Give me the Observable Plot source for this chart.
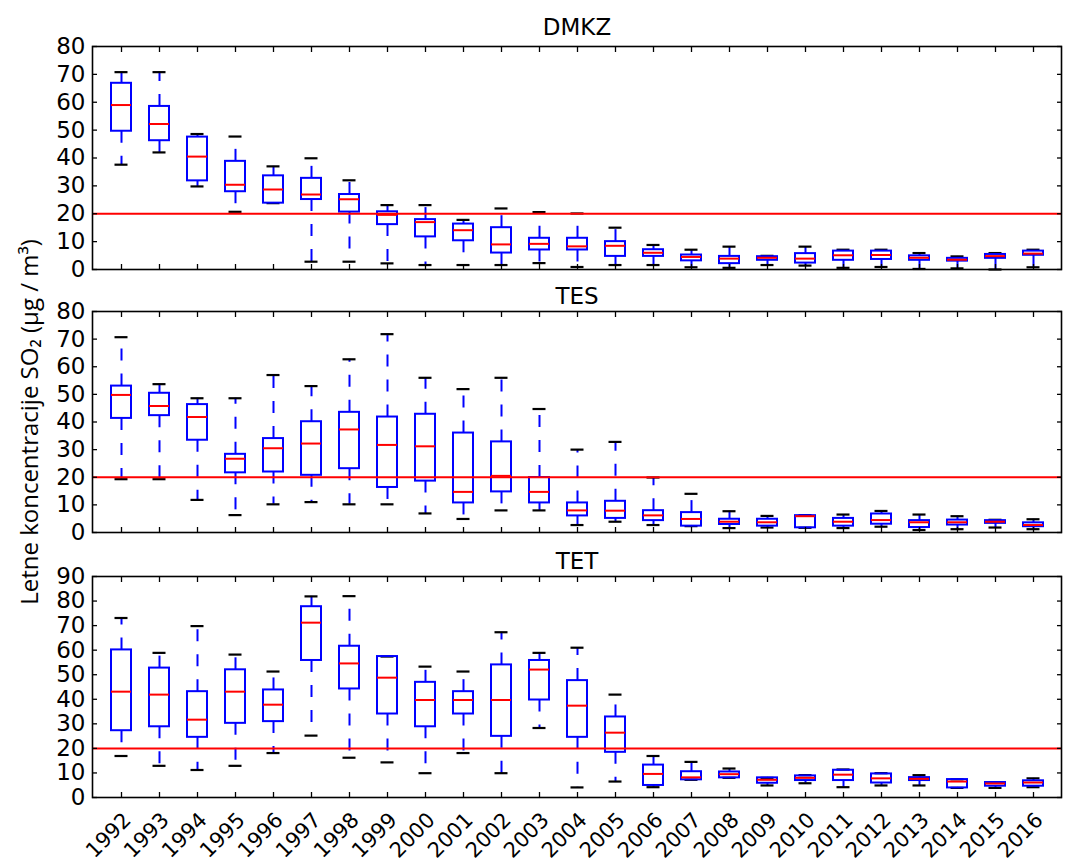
<!DOCTYPE html>
<html><head><meta charset="utf-8">
<script src="https://cdn.jsdelivr.net/npm/d3@7"></script>
<script src="https://cdn.jsdelivr.net/npm/@observablehq/plot@0.6"></script>
<style>
body{margin:0;background:#fff;}
#wrap{position:relative;width:1070px;height:865px;overflow:hidden;background:#fff;}
.panel{position:absolute;left:0;}
.panel svg{overflow:visible;}
</style></head><body><div id="wrap"></div>
<script>
const years = [1992,1993,1994,1995,1996,1997,1998,1999,2000,2001,2002,2003,2004,2005,2006,2007,2008,2009,2010,2011,2012,2013,2014,2015,2016];
const limitValue = 20;
const yLabelText = "Letne koncentracije SO\u2082 (\u03BCg / m\u00B3)";

// DMKZ
const dmkzHigh = [70.8,70.8,48.6,47.7,37,39.9,32,23.1,23.1,17.8,21.9,20.6,20.1,15,8.8,7.1,8.2,4.9,8.2,7.1,7.1,5.9,4.7,5.9,7.1];
const dmkzQ3   = [66.8,58.5,47.5,38.8,33.6,32.7,26.9,20.7,17.9,16.3,15,11.2,11.2,10,7.1,5.2,4.7,4.6,5.7,6.6,6.6,4.9,4.0,5.4,6.6];
const dmkzMed  = [59,52.2,40.5,30.4,28.7,26.9,25.2,19.6,17,14.1,9,9.2,8.3,8.5,6,4.5,3.9,4.2,3.9,5.1,5.2,4.2,3.5,4.8,5.7];
const dmkzQ1   = [49.6,46.2,31.8,27.9,23.8,25.1,20.6,16.1,11.7,10.3,5.9,7,7,4.7,4.7,3.1,2.1,3.3,2.3,3.3,3.6,3.3,3.0,4.0,5.1];
const dmkzLow  = [37.6,42,29.8,20.7,23.8,2.8,2.8,2.2,1.6,1.6,1.6,2.3,0.9,1.6,1.6,0.8,0.6,1.6,1.4,0.6,0.9,0.2,0.4,0,0.8];

// TES
const tesHigh = [70.7,53.7,48.6,48.6,57,53,62.7,71.8,56,51.9,56,44.7,30,32.8,19.9,14,7.7,6,6.3,6.5,7.8,6.5,5.9,4.6,4.8];
const tesQ3   = [53,50.4,46.3,28.3,34,40.1,43.5,41.8,42.8,36,32.8,19.9,10.7,11.3,7.9,7.2,4.8,4.8,6.1,5.1,6.7,4.3,4.5,4.3,3.5];
const tesMed  = [49.8,45.8,41.8,26.7,30.5,32.2,37.3,31.7,31.2,14.7,20.5,14.7,8,7.9,6.2,4.9,3.9,3.7,5.9,3.9,4.5,3.7,3.7,3.9,2.7];
const tesQ1   = [41.3,42.3,33.4,21.6,21.9,20.7,23.1,16.3,18.6,10.7,14.7,10.7,6,5.1,4.3,2.3,2.9,2.3,1.7,2.3,3,1.8,2.7,3.3,2.1];
const tesLow  = [19.3,19.3,11.8,6.3,10.2,11,10.2,10.2,6.9,4.9,8,8,2.7,3.9,2.7,2.3,1.6,1.8,1.7,1.6,2.1,0.9,1.2,1.8,1.2];

// TET
const tetHigh = [73.1,58.9,69.8,58.2,51.3,81.9,82,57.4,53.3,51.3,67.3,58.9,61,41.9,16.9,14.5,11.8,8,9.1,11.4,9.9,9.1,7.4,6.2,7.8];
const tetQ3   = [60.1,52.7,43.1,52,43.8,77.7,61.6,57.4,46.9,43.1,54,55.8,47.6,32.8,13.2,10.5,10.4,8,8.8,11.1,9.6,8.1,7.3,6.1,6.8];
const tetMed  = [43.1,41.9,31.7,43.1,37.8,71.2,54.6,48.8,39.7,39.7,39.7,52.1,37.4,26.4,9.6,8.2,9.5,7.2,8,9.3,7.8,7.6,6.5,5.7,6.1];
const tetQ1   = [27.2,28.8,24.5,30.2,30.9,55.8,44.2,34,28.8,34,24.9,39.7,24.5,18.4,4.9,7.2,8,5.8,6.9,6.9,5.9,6.9,3.9,4.6,4.6];
const tetLow  = [16.9,12.9,11.2,12.9,18.1,25.2,16.2,14.3,9.9,18.1,9.9,28.3,4.1,6.5,4.2,7.2,8,4.9,5.8,4.2,4.9,4.9,3.9,3.9,4.2];

const BLUE = "#0000ff", RED = "#ff0000";
const FONT = "DejaVu Sans";

function makePanel(cfg) {
  const rows = years.map((yr, i) => ({
    year: String(yr), low: cfg.low[i], q1: cfg.q1[i], med: cfg.med[i], q3: cfg.q3[i], high: cfg.high[i]
  }));
  const yTicks = d3.range(0, cfg.yMax + 1, 10);
  const blank = () => "";
  const marks = [
    Plot.ruleX(rows, {x: "year", y1: "q3", y2: "high", stroke: BLUE, strokeWidth: 2, strokeDasharray: "12,13"}),
    Plot.ruleX(rows, {x: "year", y1: "q1", y2: "low", stroke: BLUE, strokeWidth: 2, strokeDasharray: "12,13"}),
    Plot.tickY(rows, {x: "year", y: "high", stroke: "black", strokeWidth: 2.2, inset: 3.5}),
    Plot.tickY(rows, {x: "year", y: "low", stroke: "black", strokeWidth: 2.2, inset: 3.5}),
    Plot.barY(rows, {x: "year", y1: "q1", y2: "q3", fill: "none", stroke: BLUE, strokeWidth: 2}),
    Plot.tickY(rows, {x: "year", y: "med", stroke: RED, strokeWidth: 2}),
    Plot.ruleY([limitValue], {stroke: RED, strokeWidth: 2}),
    Plot.axisY({anchor: "left", ticks: yTicks, tickSize: 0, tickPadding: 7, fontSize: 23, label: null}),
    Plot.axisY({anchor: "left", ticks: yTicks, tickSize: -5, tickFormat: blank, label: null, strokeWidth: 1.3}),
    Plot.axisY({anchor: "right", ticks: yTicks, tickSize: -5, tickFormat: blank, label: null, strokeWidth: 1.3}),
    Plot.axisX({anchor: "top", tickSize: -5, tickFormat: blank, label: null, strokeWidth: 1.3}),
    Plot.axisX({anchor: "bottom", tickSize: -5, tickFormat: blank, label: null, strokeWidth: 1.3}),
    Plot.frame({stroke: "black", strokeWidth: 1.6}),
    Plot.text([cfg.title], {text: d => d, frameAnchor: "top", lineAnchor: "middle", dy: cfg.titleDy, fontSize: 23, fill: "black"})
  ];
  if (cfg.showX) {
    marks.push(Plot.axisX({anchor: "bottom", tickSize: 0, tickPadding: 0, tickRotate: -45, fontSize: 21, dx: 6, dy: 19, label: null}));
  }
  if (cfg.yLabel) {
    marks.push(Plot.text([cfg.yLabel], {text: d => d, frameAnchor: "left", textAnchor: "middle", lineAnchor: "middle", rotate: -90, dx: -62, fontSize: 24, fontFamily: "Open Sans", fill: "black"}));
  }
  return Plot.plot({
    width: 1070,
    height: cfg.height,
    marginTop: cfg.marginTop,
    marginBottom: cfg.marginBottom,
    marginLeft: 92,
    marginRight: 9,
    style: {fontFamily: FONT, fontSize: "22px", background: "transparent", color: "black", overflow: "visible"},
    x: {type: "band", domain: years.map(String), paddingInner: 0.484, paddingOuter: 0.242},
    y: {domain: [0, cfg.yMax]},
    marks
  });
}

const wrap = document.getElementById("wrap");
const panels = [
  {top: 0, title: "DMKZ", low: dmkzLow, q1: dmkzQ1, med: dmkzMed, q3: dmkzQ3, high: dmkzHigh, yMax: 80, height: 271, marginTop: 46, marginBottom: 2, titleDy: -19},
  {top: 271, title: "TES", low: tesLow, q1: tesQ1, med: tesMed, q3: tesQ3, high: tesHigh, yMax: 80, height: 263, marginTop: 40, marginBottom: 2, titleDy: -15, yLabel: yLabelText, z: 3},
  {top: 534, title: "TET", low: tetLow, q1: tetQ1, med: tetMed, q3: tetQ3, high: tetHigh, yMax: 90, height: 331, marginTop: 42, marginBottom: 68, titleDy: -15, showX: true}
];
for (const p of panels) {
  const div = document.createElement("div");
  div.className = "panel";
  div.style.top = p.top + "px";
  div.style.zIndex = p.z || 1;
  div.appendChild(makePanel(p));
  wrap.appendChild(div);
}
</script>
</body></html>
